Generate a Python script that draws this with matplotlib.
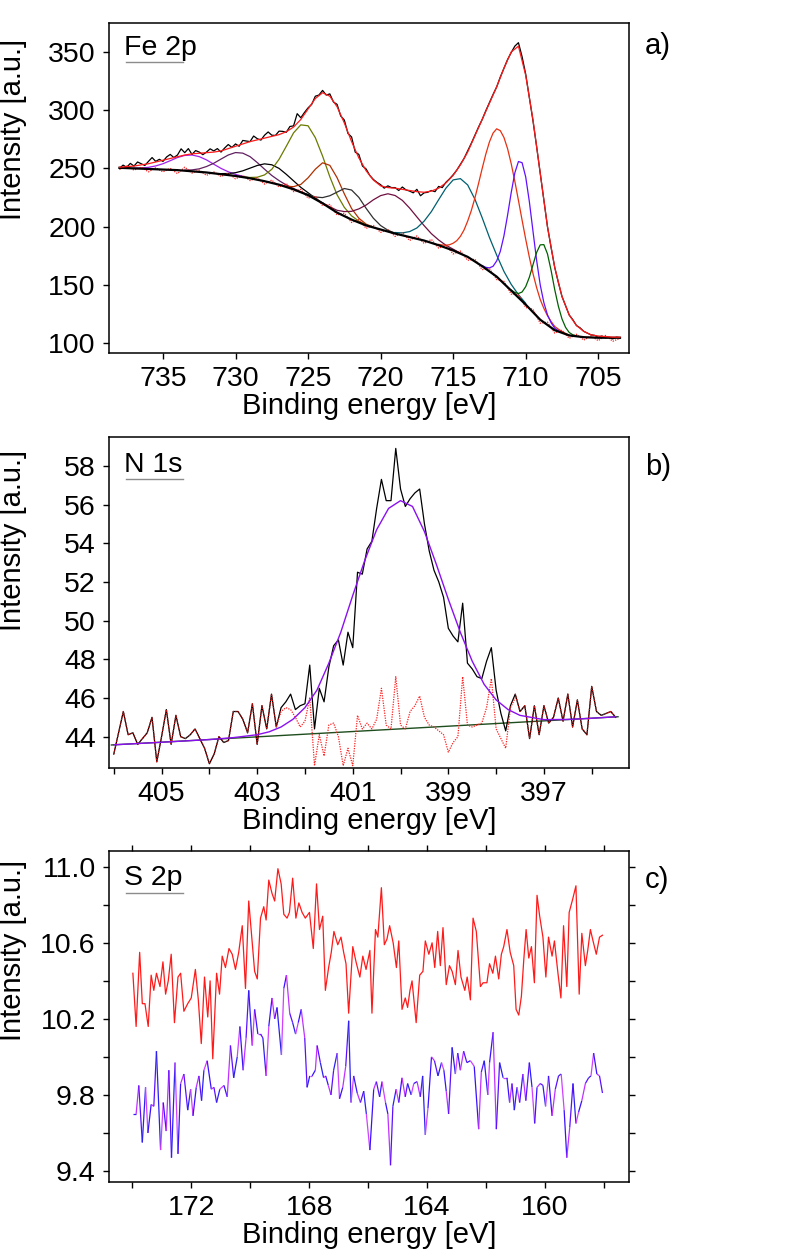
import numpy as np
import matplotlib
matplotlib.use("Agg")
import matplotlib.pyplot as plt
from matplotlib.collections import LineCollection
from matplotlib.ticker import MultipleLocator, FixedLocator

plt.rcParams['font.family'] = ['Liberation Sans', 'DejaVu Sans']

# ---------------- panel a: Fe 2p ----------------
fe_raw_start, fe_raw_step = 738.0, 0.25
fe_raw = [250, 252.8, 251, 254.3, 252, 255.5, 254, 252.5, 256, 259.3, 256, 257.8, 256, 259.8, 262, 259.3,
          261.5, 266.8, 263.5, 267, 262, 265.3, 264, 261.8, 264, 266.8, 265, 267, 264, 267.5, 270.5, 268,
          271, 269, 274, 273.5, 273, 277.8, 275.5, 274.3, 278.5, 281.3, 278.5, 278.3, 282, 281.8, 281, 286,
          286.5, 297, 293.5, 298, 302, 305, 312, 313, 317, 313, 314, 307, 305, 295, 291.5, 280,
          277, 264, 262, 252, 249.5, 244, 240.5, 238, 236, 233, 235, 233.5, 233.5, 231, 234, 231.5,
          230.5, 229, 232, 226.5, 229, 229.5, 231, 230, 234.5, 233.5, 238, 241, 244.5, 248.5, 253.5, 258.5,
          265, 271.5, 278.5, 285.5, 292, 299.5, 306.5, 313.5, 320, 328.5, 336, 343.5, 349.5, 355, 358, 346,
          331, 311, 291, 269, 246, 223, 200, 182, 165, 152, 140, 132, 124, 120, 115, 113,
          110, 108.5, 107, 106.5, 105, 106, 104.5, 105, 103.5, 105, 104.5]

fe_start, fe_step = 738.0, 0.5
fe_envelope = [251, 251.5, 252, 253, 254, 255.5, 257, 258.5, 260, 261.5,
               262.5, 263, 263.5, 264, 265, 267, 269, 271, 273, 274.5,
               276, 277.5, 279, 281.5, 285.5, 292, 301, 310, 315, 312,
               303, 289, 273, 259, 248, 240, 235, 233.5, 233, 232,
               231, 230, 229.5, 230.5, 233, 237.5, 244, 253, 264, 278,
               292, 306, 320, 336, 350, 355, 330, 292, 246, 200,
               165, 140, 124, 115, 110, 107, 106, 105.5, 105, 105]
fe_background = [250.5, 250.25, 250, 249.75, 249.5, 249.25, 249, 248.75, 248.5, 248,
                 247.5, 247, 246.5, 245.75, 245, 244.25, 243.5, 242.5, 241.5, 240.25,
                 239, 237.5, 236, 234, 232, 229.5, 227, 223.5, 220, 216,
                 212, 209, 206, 203.5, 201, 199.25, 197.5, 195.75, 194, 192.5,
                 191, 189.5, 188, 186, 184, 181.75, 179.5, 176.75, 174, 170,
                 166, 161.5, 157, 151, 145, 139, 133, 126.5, 120, 115.5,
                 111, 108.75, 106.5, 105.75, 105, 104.75, 104.5, 104.5, 104.5, 104.5]
fe_residual = [249, 252, 248.5, 251, 247, 250.5, 247, 250, 245.5, 251,
               246, 248.5, 244, 247, 243, 246, 241, 244, 239.5, 242,
               236.5, 240, 234, 237, 230, 232, 224.5, 226, 218, 219,
               210, 211.5, 203.5, 206, 198.5, 201, 195, 197.5, 191.5, 195,
               188, 192, 185.5, 189, 181.5, 184, 176.5, 179, 171, 172,
               163, 164, 154.5, 153, 142, 141.5, 130.5, 129, 117, 118,
               108.5, 111, 104, 107.5, 102.5, 106, 102, 106.5, 101.5, 104]

# fitted components (start energy, step, values incl. background)
fe_c1 = (737.0, 0.5, [250.2, 250.4, 250.9, 252.1, 254.0, 256.6, 259.3, 261.1, 261.5, 260.1, 257.3,
                      253.6, 250.0, 247.1, 244.9, 243.1, 241.7])
fe_c2 = (733.5, 0.5, [248.5, 248.7, 249.6, 251.6, 254.4, 258.0, 261.5, 263.6, 263.1, 260.1, 255.0,
                      249.3, 243.9, 239.5, 235.7, 232.7, 229.8])
fe_c3 = (731.0, 0.5, [245.5, 245.6, 246.3, 247.9, 250.2, 252.5, 253.9, 253.1, 250.0, 244.9, 239.3,
                      233.7, 229.1, 224.4, 220.3])
fe_c4 = (729.5, 0.5, [242.7, 242.2, 242.4, 244.4, 249.2, 257.8, 269.0, 280.5, 287.4, 286.6, 276.4,
                      260.6, 242.8, 227.3, 216.5, 209.2, 204.7, 201.4])
fe_c5 = (727.0, 0.5, [236.1, 234.6, 234.3, 236.2, 241.9, 249.3, 254.8, 252.6, 242.0, 228.1, 215.5,
                      207.2, 202.1, 199.5])
fe_c6 = (725.5, 0.5, [229.6, 227.6, 225.4, 224.9, 226.5, 229.6, 232.7, 231.4, 225.1, 215.7, 207.2,
                      200.9, 196.9, 194.3])
fe_c7 = (724.0, 0.5, [220.4, 216.9, 214.0, 212.9, 213.1, 215.2, 218.5, 223.0, 226.6, 228.2, 226.7,
                      222.5, 215.9, 208.3, 200.8, 193.9, 188.5, 184.0, 180.6, 177.2])
fe_c8 = (719.0, 0.5, [194.9, 194.6, 195.7, 198.8, 204.7, 212.9, 223.1, 233.0, 240.1, 241.2, 235.8,
                      223.5, 207.6, 190.7, 175.5, 161.5, 150.4, 141.5, 134.1])
fe_c9 = (716.0, 0.25, [184.7, 184.2, 184.0, 184.4, 185.7, 187.9, 191.6, 197.1, 204.7, 213.7, 224.6,
                       237.0, 249.9, 262.2, 272.7, 280.3, 284.0, 282.4, 276.6, 267.0, 254.1, 239.0,
                       222.5, 205.6, 189.2, 173.8, 159.8, 147.7, 137.4, 129.8, 123.5, 118.5, 114.2,
                       111.9, 109.9, 108.2, 106.8])
fe_c10 = (713.0, 0.25, [166.5, 165.0, 164.5, 165.9, 170.5, 178.7, 192.0, 209.7, 229.1, 246.1, 255.9,
                        254.9, 242.7, 221.6, 196.3, 171.3, 150.0, 134.8, 124.2, 117.4, 112.7, 110.6,
                        108.95])
fe_c11 = (711.0, 0.25, [145.5, 143.4, 142.5, 143.8, 148.4, 156.4, 167.1, 177.7, 184.3, 184.5, 176.6,
                        162.4, 145.9, 131.7, 120.7, 113.4, 109.0, 107.0, 106.1])
fe_components = [fe_c1, fe_c2, fe_c3, fe_c4, fe_c5, fe_c6, fe_c7, fe_c8, fe_c9, fe_c10, fe_c11]
fe_colors = ['#a020f0', '#602060', '#000000', '#6b7a00', '#b03000', '#303030',
             '#701040', '#006070', '#e83010', '#6010ff', '#006000']

# ---------------- panel b: N 1s ----------------
n_start, n_step = 406.0, 0.1
n_raw = [43.1, 44.2, 45.3, 44.1, 44.2, 43.6, 43.9, 44.2, 45.0, 42.7,
         44.0, 45.4, 43.6, 45.1, 44.0, 43.9, 44.1, 44.4, 43.9, 43.4,
         42.6, 43.1, 44.0, 43.7, 43.8, 45.3, 45.3, 44.9, 44.2, 45.7,
         43.6, 45.6, 44.4, 46.2, 44.5, 45.5, 45.8, 46.2, 45.4, 45.6,
         45.7, 47.7, 44.4, 46.5, 45.8, 47.6, 48.7, 49.0, 47.7, 49.4,
         48.6, 52.5, 52.4, 53.7, 54.1, 55.8, 57.3, 56.2, 56.2, 58.9,
         56.8, 55.9, 56.3, 56.6, 56.8, 55.0, 53.6, 52.6, 52.0, 51.2,
         49.6, 49.2, 48.9, 50.9, 47.8, 47.5, 47.1, 47.0, 47.9, 48.6,
         46.4, 45.2, 44.3, 45.6, 46.2, 45.3, 45.6, 43.9, 45.6, 44.1,
         45.6, 44.7, 45.0, 46.0, 44.8, 46.2, 44.5, 45.9, 44.4, 44.1,
         46.6, 45.3, 45.1, 45.2, 45.3, 45.0]
n_fit_x = [406.0, 405.0, 404.0, 403.5, 403.0, 402.75, 402.5, 402.25, 402.0, 401.75, 401.5,
           401.25, 401.0, 400.75, 400.5, 400.25, 400.0, 399.75, 399.5, 399.25, 399.0, 398.75,
           398.5, 398.25, 398.0, 397.75, 397.5, 397.0, 396.5, 396.0, 395.5]
n_fit_y = [43.58, 43.71, 43.85, 43.95, 44.1, 44.25, 44.5, 44.9, 45.5, 46.4, 47.8,
           49.4, 51.3, 53.1, 54.7, 55.8, 56.2, 55.9, 54.6, 52.9, 51.1, 49.4,
           47.9, 46.7, 45.9, 45.4, 45.1, 44.88, 44.89, 44.95, 45.03]
n_base_x = [406.05, 395.45]
n_base_y = [43.57, 45.03]
n_res_start = 402.6
n_residual = [44.5, 45.3, 45.5, 45.4, 45.0, 44.5, 44.8, 46.0, 42.5, 44.1,
              43.0, 44.6, 44.7, 44.0, 42.5, 43.4, 42.5, 45.1, 44.4, 44.7,
              44.4, 44.9, 46.5, 44.6, 44.4, 47.1, 44.6, 44.4, 45.3, 45.6,
              46.1, 45.0, 44.6, 44.5, 44.3, 44.1, 43.2, 43.7, 44.0, 47.1,
              44.6, 44.5, 44.6, 44.7, 45.5, 47.0, 44.4, 43.9, 43.4, 45.5,
              46.0]

# ---------------- panel c: S 2p ----------------
s_red_x = [173.98, 173.87, 173.75, 173.66, 173.57, 173.46, 173.36, 173.27, 173.18, 173.06, 172.96,
           172.87, 172.78, 172.68, 172.57, 172.45, 172.36, 172.25, 172.12, 172.00, 171.86, 171.76,
           171.66, 171.55, 171.44, 171.36, 171.27, 171.14, 171.04, 170.95, 170.84, 170.72, 170.61,
           170.50, 170.39, 170.27, 170.16, 170.05, 169.93, 169.85, 169.76, 169.65, 169.54, 169.46,
           169.37, 169.26, 169.17, 169.06, 168.95, 168.86, 168.75, 168.67, 168.56, 168.45, 168.35,
           168.24, 168.13, 167.99, 167.86, 167.75, 167.65, 167.54, 167.45, 167.34, 167.25, 167.16,
           167.03, 166.92, 166.83, 166.75, 166.66, 166.52, 166.41, 166.28, 166.18, 166.07, 165.94,
           165.87, 165.75, 165.67, 165.55, 165.45, 165.36, 165.27, 165.15, 165.04, 164.96, 164.85,
           164.74, 164.66, 164.58, 164.51, 164.37, 164.25, 164.14, 164.06, 163.94, 163.83, 163.74,
           163.64, 163.55, 163.46, 163.35, 163.24, 163.15, 163.04, 162.95, 162.85, 162.72, 162.64,
           162.53, 162.44, 162.33, 162.19, 162.10, 161.97, 161.88, 161.77, 161.68, 161.57, 161.48,
           161.40, 161.29, 161.18, 161.06, 160.98, 160.89, 160.80, 160.72, 160.64, 160.55, 160.46,
           160.36, 160.27, 160.18, 160.07, 159.97, 159.88, 159.76, 159.68, 159.56, 159.46, 159.37,
           159.26, 159.18, 159.06, 158.95, 158.84, 158.75, 158.63, 158.55, 158.46, 158.37, 158.26,
           158.15, 158.05]
s_red_y = [10.44, 10.16, 10.55, 10.28, 10.28, 10.16, 10.43, 10.35, 10.44, 10.37, 10.50,
           10.33, 10.40, 10.54, 10.18, 10.42, 10.44, 10.24, 10.28, 10.31, 10.46, 10.30,
           10.07, 10.42, 10.21, 10.40, 9.99, 10.44, 10.33, 10.53, 10.47, 10.57, 10.54,
           10.46, 10.55, 10.69, 10.36, 10.82, 10.60, 10.45, 10.41, 10.73, 10.79, 10.72,
           10.93, 10.86, 10.82, 10.99, 10.91, 10.75, 10.73, 10.76, 10.94, 10.73, 10.81,
           10.76, 10.73, 10.76, 10.57, 10.91, 10.67, 10.74, 10.35, 10.47, 10.55, 10.66,
           10.59, 10.63, 10.55, 10.49, 10.23, 10.58, 10.50, 10.42, 10.53, 10.46, 10.56,
           10.23, 10.67, 10.63, 10.89, 10.59, 10.62, 10.69, 10.60, 10.47, 10.61, 10.25,
           10.31, 10.26, 10.35, 10.40, 10.18, 10.43, 10.45, 10.61, 10.54, 10.60, 10.47,
           10.66, 10.48, 10.68, 10.38, 10.48, 10.45, 10.38, 10.56, 10.42, 10.35, 10.42,
           10.30, 10.73, 10.66, 10.37, 10.39, 10.39, 10.49, 10.44, 10.53, 10.41, 10.54,
           10.58, 10.67, 10.55, 10.48, 10.25, 10.22, 10.32, 10.51, 10.67, 10.52, 10.58,
           10.39, 10.85, 10.74, 10.63, 10.42, 10.63, 10.53, 10.61, 10.44, 10.31, 10.69,
           10.37, 10.76, 10.83, 10.90, 10.33, 10.65, 10.48, 10.56, 10.67, 10.61, 10.54,
           10.63, 10.64]
s_blue_x = [173.98, 173.87, 173.78, 173.66, 173.55, 173.47, 173.36, 173.27, 173.18, 173.04, 172.95,
            172.85, 172.76, 172.67, 172.55, 172.45, 172.36, 172.25, 172.12, 172.02, 171.94, 171.83,
            171.74, 171.65, 171.57, 171.46, 171.32, 171.23, 171.14, 171.03, 170.89, 170.78, 170.67,
            170.56, 170.44, 170.35, 170.24, 170.14, 170.05, 169.93, 169.85, 169.74, 169.65, 169.57,
            169.46, 169.37, 169.26, 169.17, 169.09, 168.94, 168.86, 168.77, 168.66, 168.56, 168.46,
            168.37, 168.27, 168.15, 168.07, 167.98, 167.90, 167.79, 167.73, 167.62, 167.51, 167.44,
            167.35, 167.26, 167.17, 167.05, 166.97, 166.86, 166.76, 166.66, 166.58, 166.49, 166.37,
            166.26, 166.15, 166.06, 165.94, 165.81, 165.72, 165.61, 165.53, 165.41, 165.33, 165.24,
            165.16, 165.05, 164.96, 164.85, 164.74, 164.66, 164.54, 164.45, 164.34, 164.23, 164.15,
            164.06, 163.97, 163.85, 163.75, 163.63, 163.51, 163.43, 163.35, 163.27, 163.15, 163.04,
            162.96, 162.87, 162.76, 162.65, 162.53, 162.40, 162.25, 162.16, 162.06, 161.94, 161.88,
            161.76, 161.65, 161.54, 161.42, 161.29, 161.20, 161.12, 161.04, 160.95, 160.86, 160.75,
            160.65, 160.53, 160.44, 160.35, 160.27, 160.16, 160.07, 159.98, 159.88, 159.76, 159.65,
            159.54, 159.45, 159.35, 159.26, 159.16, 159.05, 158.95, 158.86, 158.75, 158.63, 158.52,
            158.44, 158.35, 158.24, 158.15, 158.05]
s_blue_y = [9.70, 9.70, 9.85, 9.55, 9.84, 9.60, 9.75, 9.74, 10.03, 9.51, 9.76,
            9.61, 9.93, 9.47, 9.97, 9.49, 9.86, 9.91, 9.72, 9.83, 9.69, 9.84,
            9.90, 9.77, 9.93, 9.98, 9.83, 9.84, 9.76, 9.83, 9.85, 9.79, 10.06,
            9.89, 10.00, 10.16, 9.93, 10.10, 10.35, 10.06, 10.25, 10.12, 10.12, 10.10,
            9.90, 10.16, 10.31, 10.20, 10.26, 10.01, 10.36, 10.43, 10.23, 10.18, 10.12,
            10.18, 10.25, 10.10, 9.84, 9.90, 9.90, 9.93, 10.06, 9.97, 9.89, 9.90,
            9.85, 9.80, 9.93, 10.02, 9.78, 9.84, 9.95, 10.19, 9.76, 9.90, 9.81,
            9.76, 9.82, 9.70, 9.51, 9.83, 9.87, 9.79, 9.87, 9.76, 9.70, 9.43,
            9.74, 9.83, 9.76, 9.89, 9.79, 9.86, 9.80, 9.86, 9.87, 9.79, 9.90,
            9.59, 9.73, 10.00, 9.98, 9.90, 9.97, 9.93, 9.82, 9.70, 10.05, 9.91,
            10.02, 9.93, 10.03, 9.97, 9.98, 9.95, 9.62, 9.92, 9.98, 9.80, 9.97,
            10.13, 9.62, 9.97, 9.89, 9.89, 9.76, 9.86, 9.72, 9.84, 9.76, 9.91,
            9.77, 9.97, 9.84, 9.65, 9.84, 9.86, 9.85, 9.74, 9.90, 9.69, 9.83,
            9.90, 9.91, 9.72, 9.47, 9.63, 9.86, 9.65, 9.71, 9.77, 9.86, 9.89,
            9.90, 10.02, 9.91, 9.90, 9.81]

FS = 20.5


def style_axes(ax, mirror=False):
    for sp in ax.spines.values():
        sp.set_linewidth(1.1)
    ax.tick_params(which='both', direction='out', length=4.5, width=1.0, pad=5,
                   labelsize=FS, top=mirror, right=mirror)
    ax.set_xlabel("Binding energy [eV]", fontsize=21, labelpad=0)
    ax.set_ylabel("Intensity [a.u.]", fontsize=21)


def tag(ax, text, y_text, y_line):
    ax.text(0.029, y_text, text, transform=ax.transAxes, fontsize=FS, va='baseline', ha='left')
    ax.plot([0.033, 0.143], [y_line, y_line], transform=ax.transAxes, color='#8c8c8c', lw=1.0)


fig = plt.figure(figsize=(7.94, 12.51), dpi=100)
W = 520 / 794
ax1 = fig.add_axes([109 / 794, 1 - 353 / 1251, W, 330 / 1251])
ax2 = fig.add_axes([109 / 794, 1 - 768 / 1251, W, 331 / 1251])
ax3 = fig.add_axes([109 / 794, 1 - 1182 / 1251, W, 331 / 1251])

# panel a
e_raw = fe_raw_start - fe_raw_step * np.arange(len(fe_raw))
e_fit = fe_start - fe_step * np.arange(len(fe_envelope))
for (x0, dx, vals), col in zip(fe_components, fe_colors):
    ax1.plot(x0 - dx * np.arange(len(vals)), vals, color=col, lw=0.9)
ax1.plot(e_fit, fe_residual, color='#ff2020', lw=0.9, ls=(0, (1, 1)))
ax1.plot(e_fit, fe_background, color='black', lw=1.6)
ax1.plot(e_raw, fe_raw, color='black', lw=0.9)
ax1.plot(e_fit, fe_envelope, color='#ff1a1a', lw=0.9)
ax1.set_xlim(738.72, 702.88)
ax1.set_ylim(91.4, 374.9)
ax1.xaxis.set_major_locator(FixedLocator([735, 730, 725, 720, 715, 710, 705]))
ax1.yaxis.set_major_locator(MultipleLocator(50))
style_axes(ax1)
ax1.yaxis.set_label_coords(-0.158, 0.676)
tag(ax1, "Fe 2p", 0.903, 0.883)

# panel b
e_n = n_start - n_step * np.arange(len(n_raw))
e_res = n_res_start - n_step * np.arange(len(n_residual))
raw_arr = np.array(n_raw)
left = e_n >= n_res_start - 1e-6
right = e_n <= e_res[-1] + 1e-6
ax2.plot(n_base_x, n_base_y, color='#1e4d1e', lw=1.0)
ax2.plot(e_n, n_raw, color='black', lw=0.9)
ax2.plot(e_n[left], raw_arr[left], color='#d01010', lw=0.9, ls=(0, (1, 1)))
ax2.plot(e_n[right], raw_arr[right], color='#d01010', lw=0.9, ls=(0, (1, 1)))
ax2.plot(e_res, n_residual, color='#ff2020', lw=0.9, ls=(0, (1, 1)))
ax2.plot(n_fit_x, n_fit_y, color='#8a10f0', lw=1.0)
ax2.set_xlim(406.1, 395.22)
ax2.set_ylim(42.38, 59.49)
ax2.xaxis.set_major_locator(FixedLocator([405, 403, 401, 399, 397]))
ax2.xaxis.set_minor_locator(FixedLocator([406, 404, 402, 400, 398, 396]))
ax2.yaxis.set_major_locator(MultipleLocator(2))
style_axes(ax2)
ax2.yaxis.set_label_coords(-0.158, 0.687)
tag(ax2, "N 1s", 0.893, 0.872)

# panel c
ax3.plot(s_red_x, s_red_y, color='#ff1a1a', lw=0.9)
pts = np.column_stack([s_blue_x, s_blue_y])
segs = np.stack([pts[:-1], pts[1:]], axis=1)
seg_cols = ['#3a10ff', '#c030ff', '#5a10ff', '#2a20f0', '#d040ff']
lc = LineCollection(segs, colors=[seg_cols[i % len(seg_cols)] for i in range(len(segs))], lw=0.9)
ax3.add_collection(lc)
ax3.set_xlim(174.79, 157.15)
ax3.set_ylim(9.342, 11.083)
ax3.xaxis.set_major_locator(FixedLocator([172, 168, 164, 160]))
ax3.xaxis.set_minor_locator(FixedLocator([174, 170, 166, 162, 158]))
ax3.yaxis.set_major_locator(FixedLocator([9.4, 9.8, 10.2, 10.6, 11.0]))
ax3.yaxis.set_minor_locator(FixedLocator([9.6, 10.0, 10.4, 10.8]))
ax3.yaxis.set_major_formatter(plt.FormatStrFormatter('%.1f'))
style_axes(ax3, mirror=True)
ax3.yaxis.set_label_coords(-0.158, 0.70)
tag(ax3, "S 2p", 0.897, 0.874)

fig.text(645 / 794, 1 - 46 / 1251, "a)", fontsize=21, va='center', ha='left')
fig.text(645 / 794, 1 - 467 / 1251, "b)", fontsize=21, va='center', ha='left')
fig.text(645 / 794, 1 - 880 / 1251, "c)", fontsize=21, va='center', ha='left')

fig.savefig("out.png", dpi=100)
